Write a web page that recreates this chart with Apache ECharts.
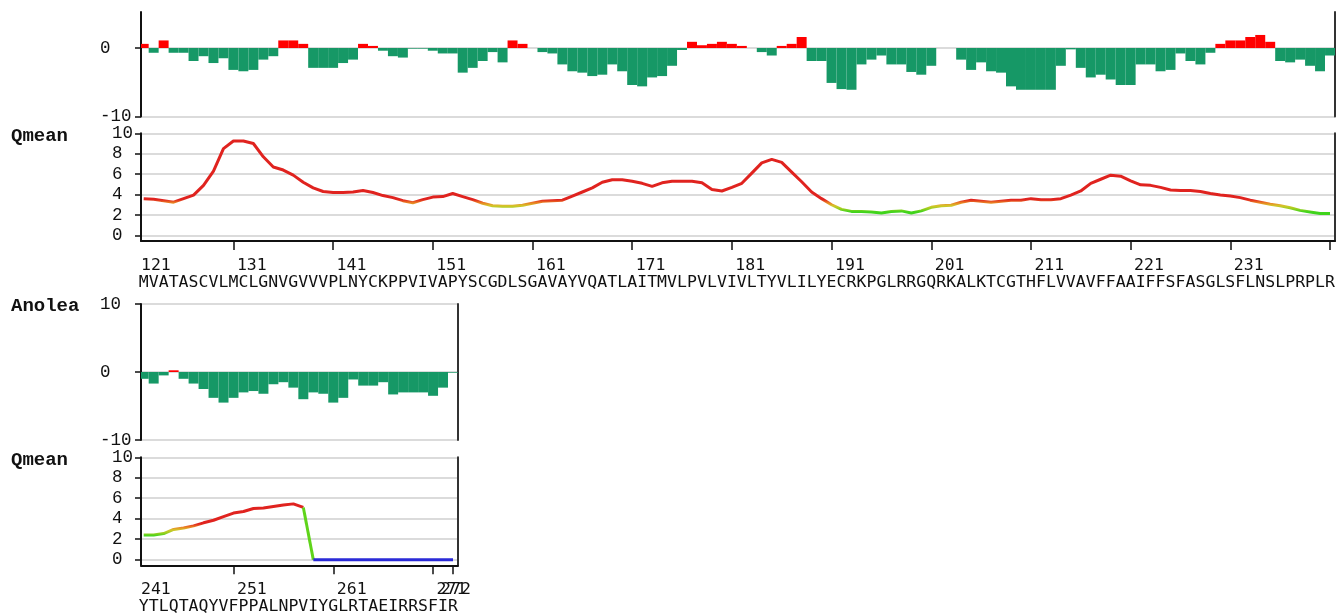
<!DOCTYPE html>
<html>
<head>
<meta charset="utf-8">
<script src="https://cdn.jsdelivr.net/npm/echarts@6/dist/echarts.min.js"></script>
<style>
  html, body { margin: 0; padding: 0; background: #ffffff; }
  #chart { width: 1340px; height: 616px; }
</style>
</head>
<body>
<div id="chart"></div>
<script>
// ---- residue blocks -------------------------------------------------------
const firstResidueA = 121;
const sequenceA = 'MVATASCVLMCLGNVGVVVPLNYCKPPVIVAPYSCGDLSGAVAYVQATLAITMVLPVLVIVLTYVLILYECRKPGLRRGQRKALKTCGTHFLVVAVFFAAIFFSFASGLSFLNSLPRPLR';
const firstResidueB = 241;
const sequenceB = 'YTLQTAQYVFPPALNPVIYGLRTAEIRRSFIR';

// Anolea energy per residue (negative = favourable)
const anoleaA = [
  0.6, -0.7, 1.1, -0.7, -0.7, -1.9, -1.2, -2.2, -1.5, -3.2,
  -3.4, -3.2, -1.7, -1.2, 1.1, 1.1, 0.6, -2.9, -2.9, -2.9,
  -2.2, -1.7, 0.6, 0.3, -0.4, -1.2, -1.4, -0.1, -0.1, -0.4,
  -0.8, -0.8, -3.6, -2.9, -1.9, -0.6, -2.1, 1.1, 0.6, 0,
  -0.6, -0.8, -2.4, -3.4, -3.6, -4.1, -3.9, -2.4, -3.4, -5.4,
  -5.6, -4.3, -4.1, -2.6, -0.3, 0.9, 0.4, 0.6, 0.9, 0.6,
  0.3, 0, -0.6, -1.1, 0.3, 0.6, 1.6, -1.9, -1.9, -5.1,
  -6.0, -6.1, -2.4, -1.7, -1.1, -2.4, -2.4, -3.5, -3.9, -2.6,
  0, 0, -1.7, -3.2, -2.1, -3.4, -3.6, -5.6, -6.1, -6.1,
  -6.1, -6.1, -2.6, -0.2, -2.9, -4.3, -3.9, -4.6, -5.4, -5.4,
  -2.4, -2.4, -3.4, -3.2, -0.8, -1.9, -2.4, -0.7, 0.6, 1.1,
  1.1, 1.6, 1.9, 0.9, -1.9, -2.1, -1.7, -2.6, -3.4, -1.1
];
const anoleaB = [
  -1.0, -1.7, -0.5, 0.25, -1.0, -1.7, -2.5, -3.8, -4.5, -3.8,
  -3.0, -2.8, -3.2, -1.8, -1.5, -2.3, -4.0, -3.0, -3.2, -4.5,
  -3.8, -1.1, -2.0, -2.0, -1.5, -3.3, -3.0, -3.0, -3.0, -3.5,
  -2.3, -0.1
];

// Qmean local score per residue (0 = residue not modelled)
const qmeanA = [
  3.6, 3.55, 3.4, 3.25, 3.6, 3.95, 4.9, 6.3, 8.5, 9.25,
  9.25, 9.0, 7.7, 6.7, 6.4, 5.9, 5.2, 4.65, 4.3, 4.2,
  4.2, 4.25, 4.4, 4.2, 3.9, 3.7, 3.4, 3.2, 3.5, 3.75,
  3.8, 4.1, 3.8, 3.5, 3.15, 2.9, 2.85, 2.85, 2.95, 3.15,
  3.35, 3.4, 3.45, 3.85, 4.25, 4.65, 5.2, 5.45, 5.45, 5.3,
  5.1, 4.8, 5.15, 5.3, 5.3, 5.3, 5.15, 4.5, 4.35, 4.7,
  5.1, 6.1, 7.1, 7.45, 7.15, 6.2, 5.25, 4.25, 3.6, 3.0,
  2.55, 2.35, 2.35, 2.3, 2.2, 2.35, 2.4, 2.2, 2.4, 2.75,
  2.9, 2.95, 3.25, 3.45, 3.35, 3.25, 3.35, 3.45, 3.45, 3.6,
  3.5, 3.5, 3.6, 3.95, 4.35, 5.1, 5.5, 5.9, 5.8, 5.35,
  4.95, 4.9, 4.7, 4.45, 4.4, 4.4, 4.3, 4.1, 3.95, 3.85,
  3.7, 3.45, 3.25, 3.05, 2.9, 2.7, 2.45, 2.3, 2.15, 2.15
];
const qmeanB = [
  2.4, 2.4, 2.55, 2.95, 3.1, 3.3, 3.6, 3.85, 4.2, 4.55,
  4.7, 5.0, 5.05, 5.2, 5.35, 5.45, 5.1, 0, 0, 0,
  0, 0, 0, 0, 0, 0, 0, 0, 0, 0,
  0, 0
];

// numbered residues under each block
const residueLabelsA = ['121', '131', '141', '151', '161', '171', '181', '191', '201', '211', '221', '231'];
const residueLabelsB = ['241', '251', '261', '271', '272'];

const anoleaTicks = [-10, 0, 10];
const qmeanTicks = [0, 2, 4, 6, 8, 10];

// ---- styling ---------------------------------------------------------------
const GREEN_BAR = '#169866';
const RED_BAR = '#ff0000';
const GRID_GRAY = '#cfcfcf';
const AXIS_DARK = '#111111';
const MONO = '"DejaVu Sans Mono", monospace';
const LABEL_FONT = '"Liberation Mono", monospace';

// x ranges of the two blocks (a residue spans r-0.5 .. r+0.5)
const rangeA = { min: 120.73, max: 240.5 };
const rangeB = { min: 240.73, max: 272.5 };

const toPoints = (values, first) => values.map((v, i) => [first + i, v]);

// ticks every ten residues plus one at the final residue;
// numbers are written just right of each tick, the final residue's
// number sits a little before its own tick
function residueAxis(first, values, labels, range) {
  const last = first + values.length - 1;
  const ticks = [];
  for (let r = first; r <= last + 1; r += 10) {
    if (r - 1 >= range.min) ticks.push(r - 1);
  }
  if (ticks[ticks.length - 1] !== last) ticks.push(last);
  const slots = {};
  const positions = [];
  const endPositions = [];
  labels.forEach(t => {
    const r = Number(t);
    const p = r === last ? r - 1.2 : Math.max(range.min, r - 0.65);
    slots[p.toFixed(3)] = t;
    (r === last ? endPositions : positions).push(p);
  });
  return { ticks, positions, endPositions, slots };
}

const axisA = residueAxis(firstResidueA, anoleaA, residueLabelsA, rangeA);
const axisB = residueAxis(firstResidueB, anoleaB, residueLabelsB, rangeB);

const numberLabel = (parts, values) => ({
  show: values.length > 0, customValues: values, align: 'left', margin: 16, hideOverlap: false,
  fontFamily: MONO, fontSize: 16.5, color: '#111',
  formatter: v => parts.slots[Number(v).toFixed(3)] || ''
});

function numberAxis(gridIndex, range, parts) {
  return {
    type: 'value', gridIndex, position: 'bottom', min: range.min, max: range.max,
    axisLine: { show: true, onZero: false, lineStyle: { color: AXIS_DARK, width: 2 } },
    axisTick: { show: true, length: 9, customValues: parts.ticks, lineStyle: { color: AXIS_DARK, width: 1.5 } },
    axisLabel: numberLabel(parts, parts.positions),
    splitLine: { show: false }
  };
}

// the final residue's number gets its own label row so it is never dropped
function endNumberAxis(gridIndex, range, parts) {
  return {
    type: 'value', gridIndex, position: 'bottom', min: range.min, max: range.max,
    axisLine: { show: false }, axisTick: { show: false }, splitLine: { show: false },
    axisLabel: numberLabel(parts, parts.endPositions)
  };
}

function sequenceAxis(gridIndex, range, first, seq) {
  const residues = Array.from(seq, (_, i) => first + i);
  return {
    type: 'value', gridIndex, position: 'bottom', min: range.min, max: range.max,
    axisLine: { show: false }, axisTick: { show: false }, splitLine: { show: false },
    axisLabel: {
      show: true, customValues: residues, align: 'center', margin: 33, hideOverlap: false,
      fontFamily: MONO, fontSize: 16.5, color: '#111',
      formatter: v => seq.charAt(Math.round(v) - first)
    }
  };
}

function hiddenX(gridIndex, range) {
  return { type: 'value', gridIndex, min: range.min, max: range.max, show: false };
}

// value labels are written left-aligned in a column left of the axis
function leftY(gridIndex, min, max, ticks, labelMargin) {
  return {
    type: 'value', gridIndex, position: 'left', min, max,
    axisLine: { show: true, lineStyle: { color: AXIS_DARK, width: 2 } },
    axisTick: { show: true, length: 6, customValues: ticks, lineStyle: { color: AXIS_DARK, width: 1.5 } },
    axisLabel: {
      show: true, customValues: ticks, margin: labelMargin, align: 'left', hideOverlap: false,
      fontFamily: LABEL_FONT, fontSize: 17.5, color: '#111'
    },
    splitLine: { show: true, lineStyle: { color: GRID_GRAY, width: 1.5 } }
  };
}

function rightY(gridIndex, min, max) {
  return {
    type: 'value', gridIndex, position: 'right', min, max,
    axisLine: { show: true, lineStyle: { color: '#333', width: 2 } },
    axisTick: { show: false }, axisLabel: { show: false }, splitLine: { show: false }
  };
}

// Anolea bars: one cell per residue, clipped to the plot area
function anoleaBar(params, api) {
  const r = api.value(0), v = api.value(1);
  const a = api.coord([r - 0.5, 0]);
  const b = api.coord([r + 0.5, v]);
  const cs = params.coordSys;
  const x0 = Math.max(a[0], cs.x);
  const x1 = Math.min(b[0], cs.x + cs.width);
  return {
    type: 'rect',
    shape: { x: x0, y: Math.min(a[1], b[1]), width: Math.max(0, x1 - x0), height: Math.abs(b[1] - a[1]) },
    style: { fill: v > 0 ? RED_BAR : GREEN_BAR }
  };
}

const pointsB = toPoints(qmeanB, firstResidueB);
const lastModelled = pointsB.reduce((m, p) => (p[1] > 0 ? p[0] : m), firstResidueB);
const modelledB = pointsB.filter(p => p[0] <= lastModelled);
const gapB = pointsB.filter(p => p[0] >= lastModelled && p[0] <= lastModelled + 1);
const unmodelledB = pointsB.filter(p => p[0] > lastModelled);

const lineBase = { type: 'line', showSymbol: false, symbol: 'none', animation: false, lineStyle: { width: 3 } };

const titleStyle = { font: 'bold 19px "Liberation Mono", monospace', fill: '#111' };

const option = {
  animation: false,
  backgroundColor: '#ffffff',
  grid: [
    { left: 141, width: 1194, top: 12, height: 104.5 },
    { left: 141, width: 1194, top: 133.3, height: 107.7 },
    { left: 141, width: 317, top: 304, height: 136 },
    { left: 141, width: 317, top: 457.3, height: 108 }
  ],
  xAxis: [
    hiddenX(0, rangeA),
    numberAxis(1, rangeA, axisA),
    sequenceAxis(1, rangeA, firstResidueA, sequenceA),
    hiddenX(2, rangeB),
    numberAxis(3, rangeB, axisB),
    sequenceAxis(3, rangeB, firstResidueB, sequenceB),
    endNumberAxis(3, rangeB, axisB)
  ],
  yAxis: [
    leftY(0, -10, 5.25, anoleaTicks, 41), rightY(0, -10, 5.25),
    leftY(1, -0.55, 10, qmeanTicks, 29), rightY(1, -0.55, 10),
    leftY(2, -10, 10, anoleaTicks, 41), rightY(2, -10, 10),
    leftY(3, -0.55, 10, qmeanTicks, 29), rightY(3, -0.55, 10)
  ],
  visualMap: [{
    type: 'continuous', show: false, seriesIndex: [1, 3], dimension: 1,
    min: 2.3, max: 3.5,
    inRange: { color: ['#3fd41c', '#98cf1e', '#d4c62a', '#ea7d22', '#e0231f'] }
  }],
  graphic: [
    { type: 'text', left: 11, top: 127, style: Object.assign({ text: 'Qmean' }, titleStyle) },
    { type: 'text', left: 11, top: 297, style: Object.assign({ text: 'Anolea' }, titleStyle) },
    { type: 'text', left: 11, top: 451, style: Object.assign({ text: 'Qmean' }, titleStyle) }
  ],
  series: [
    { type: 'custom', xAxisIndex: 0, yAxisIndex: 0, renderItem: anoleaBar, data: toPoints(anoleaA, firstResidueA), animation: false },
    Object.assign({}, lineBase, { xAxisIndex: 1, yAxisIndex: 2, data: toPoints(qmeanA, firstResidueA) }),
    { type: 'custom', xAxisIndex: 3, yAxisIndex: 4, renderItem: anoleaBar, data: toPoints(anoleaB, firstResidueB), animation: false },
    Object.assign({}, lineBase, { xAxisIndex: 4, yAxisIndex: 6, data: modelledB }),
    Object.assign({}, lineBase, { xAxisIndex: 4, yAxisIndex: 6, data: gapB, lineStyle: { width: 3, color: '#5fd41a' } }),
    Object.assign({}, lineBase, { xAxisIndex: 4, yAxisIndex: 6, data: unmodelledB, lineStyle: { width: 3, color: '#2b2bd8' } })
  ]
};

const chart = echarts.init(document.getElementById('chart'), null, { renderer: 'canvas' });
chart.setOption(option);
</script>
</body>
</html>
